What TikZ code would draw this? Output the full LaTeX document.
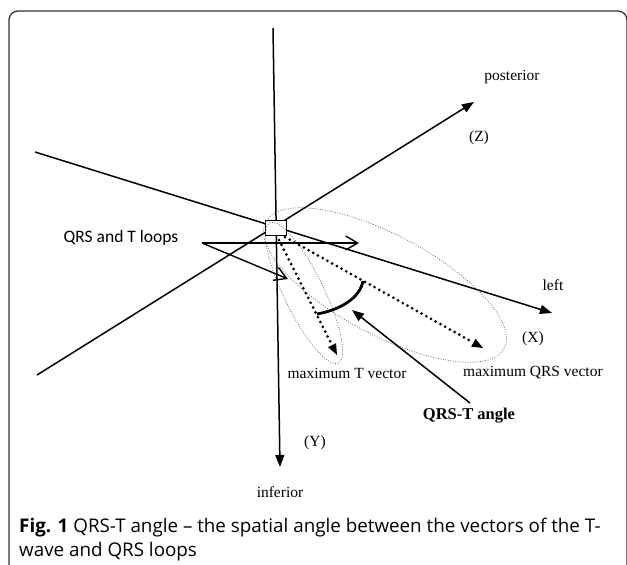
\documentclass[tikz,border=0pt]{standalone}
\usepackage{fontspec}
\setmainfont{Liberation Serif}
\newfontfamily\labfont{Carlito}
\newfontfamily\capfont{Open Sans}
\usetikzlibrary{arrows.meta}
\tikzset{
  axisline/.style={line width=1.5pt,-{Triangle[length=12pt,width=9pt]}},
  pointer/.style={line width=1.4pt,-{Straight Barb[length=12pt,width=14pt,line width=1.4pt]}},
  vecline/.style={line width=3pt,dash pattern=on 0pt off 5.4pt,line cap=round,-{Triangle[length=11pt,width=9pt,line width=0pt]}},
  loopline/.style={line width=0.7pt,gray!80!black,dash pattern=on 0.9pt off 1.6pt},
  serif/.style={font=\fontsize{15.5}{18}\selectfont,inner sep=0pt},
}
\begin{document}
\begin{tikzpicture}[x=1pt,y=-1pt]
\useasboundingbox (0,0) rectangle (627,565);
% frame
\draw[line width=1.3pt,black!80,rounded corners=9pt] (9,610) -- (9,11) -- (627,11) -- (627,610);
% coordinates
\coordinate (ytop) at (273,28);
\coordinate (ytip) at (280,467);
\coordinate (zstart) at (37,375);
\coordinate (ztip) at (474,102);
\coordinate (xstart) at (35,152);
\coordinate (xtip) at (552,313);
% axes
\draw[axisline] (ytop) -- (ytip);
\draw[axisline] (zstart) -- (ztip);
\draw[axisline] (xstart) -- (xtip);
% box
\node[draw,line width=1pt,fill=white,minimum width=21pt,minimum height=15pt,inner sep=0pt] (box) at (275.5,227.5) {};
% loops
\draw[loopline,rotate around={-28:(385,285)}] (385,285) ellipse [x radius=135, y radius=50];
\draw[loopline,rotate around={-64:(304,293)}] (304,293) ellipse [x radius=78, y radius=20];
% vectors
\coordinate (qrstip) at (483,348);
\coordinate (ttip) at (337,355);
\draw[vecline] (285,237) -- (qrstip);
\draw[vecline] (279,240) -- (ttip);
% angle arc
\coordinate (arcA) at (317,314);
\coordinate (arcB) at (363,281);
\draw[line width=2.8pt] (arcA) .. controls (340,310) and (360,298) .. (arcB);
% labels
\node[font=\labfont\fontsize{17.5}{20}\selectfont,inner sep=0pt] (loops) at (121,238) {QRS and T loops};
\coordinate (pstart) at (202,243);
\coordinate (phtip) at (359,243);
\coordinate (pdtip) at (288,279);
\draw[pointer] (pstart) -- (phtip);
\draw[pointer] (pstart) -- (pdtip);
\node[serif] (post) at (512,77) {posterior};
\node[serif] (zl) at (479,138) {(Z)};
\node[serif] (left) at (553,285) {left};
\node[serif] (xl) at (533,339) {(X)};
\node[serif] (tvec) at (347,373) {maximum T vector};
\node[serif,anchor=west] (qvec) at (463,373) {maximum QRS vector};
\node[serif,font=\bfseries\fontsize{16.5}{18}\selectfont] (ang) at (469,416) {QRS-T angle};
\node[serif] (yl) at (315,443) {(Y)};
\node[serif] (inf) at (280,492) {inferior};
\coordinate (angstart) at (470,403);
\coordinate (angtip) at (352,310);
\draw[line width=1.5pt,-{Triangle[length=12pt,width=9pt]}] (angstart) -- (angtip);
% caption
\node[anchor=west,inner sep=0pt,font=\capfont\fontsize{18.8}{22}\selectfont] (cap1) at (19,528) {\textbf{Fig. 1} QRS-T angle – the spatial angle between the vectors of the T-};
\node[anchor=west,inner sep=0pt,font=\capfont\fontsize{18.8}{22}\selectfont] (cap2) at (19,552) {wave and QRS loops};
\end{tikzpicture}
\end{document}
